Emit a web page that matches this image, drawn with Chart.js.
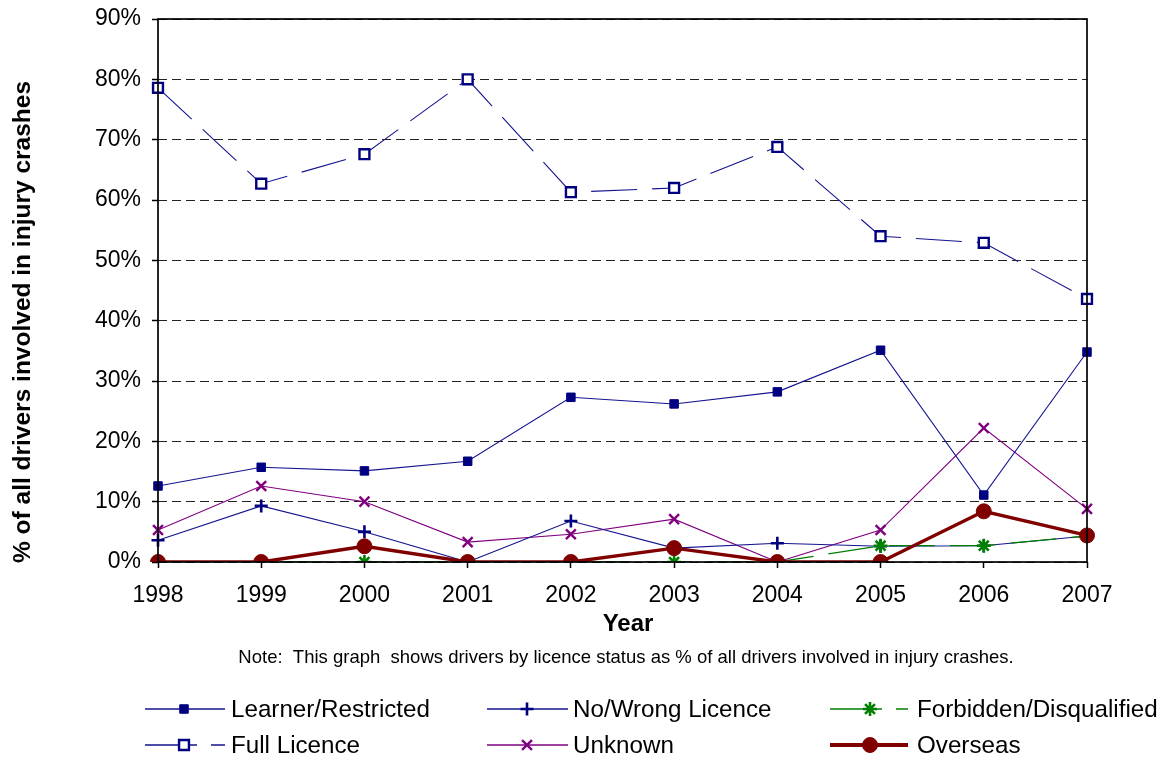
<!DOCTYPE html>
<html><head><meta charset="utf-8">
<script src="https://cdn.jsdelivr.net/npm/chart.js@4/dist/chart.umd.min.js"></script>
<style>html,body{margin:0;padding:0;background:#fff;overflow:hidden;} canvas{display:block;}</style>
</head><body>
<canvas id="c" width="1162" height="760"></canvas>
<script>
// ---- data ----
const years = ['1998','1999','2000','2001','2002','2003','2004','2005','2006','2007'];
const learnerRestricted = [12.6, 15.7, 15.1, 16.7, 27.3, 26.2, 28.2, 35.1, 11.1, 34.8];
const noWrongLicence    = [3.6, 9.3, 5.0, 0, 6.8, 2.3, 3.1, 2.6, 2.7, 4.3];
const forbiddenDisq     = [0, 0, 0, 0, 0, 0, 0, 2.7, 2.7, 4.3];
const fullLicence       = [78.6, 62.7, 67.6, 80.0, 61.3, 62.0, 68.8, 54.0, 52.9, 43.6];
const unknownStatus     = [5.3, 12.6, 10.0, 3.3, 4.6, 7.1, 0, 5.3, 22.2, 8.8];
const overseas          = [0, 0, 2.6, 0, 0, 2.3, 0, 0, 8.4, 4.4];
const yMin = 0, yMax = 90, yStep = 10;
const yTitle = '% of all drivers involved in injury crashes';
const xTitle = 'Year';
const noteText = 'Note:  This graph  shows drivers by licence status as % of all drivers involved in injury crashes.';

const FONT = '"Liberation Sans", Arial, sans-serif';

const datasets = [
  {label:'Learner/Restricted', data:learnerRestricted, borderColor:'#14148f', borderWidth:1.1,
   pointStyle:'rect', pointRadius:6, pointBackgroundColor:'#000080', pointBorderColor:'#000080', pointBorderWidth:1, order:1},
  {label:'No/Wrong Licence', data:noWrongLicence, borderColor:'#14148f', borderWidth:1.1,
   pointStyle:'cross', pointRadius:6.5, pointBackgroundColor:'#000080', pointBorderColor:'#000080', pointBorderWidth:2.6, order:3},
  {label:'Forbidden/Disqualified', data:forbiddenDisq, borderColor:'#008000', borderWidth:1.3, borderDash:[46,15],
   pointStyle:'star', pointRadius:7, pointBackgroundColor:'#008000', pointBorderColor:'#008000', pointBorderWidth:2.6, order:2},
  {label:'Full Licence', data:fullLicence, borderColor:'#14148f', borderWidth:1.1, borderDash:[46,15],
   pointStyle:'rect', pointRadius:7, pointBackgroundColor:'#ffffff', pointBorderColor:'#000080', pointBorderWidth:2.4, order:4},
  {label:'Unknown', data:unknownStatus, borderColor:'#800080', borderWidth:1.1,
   pointStyle:'crossRot', pointRadius:7, pointBackgroundColor:'#800080', pointBorderColor:'#800080', pointBorderWidth:2.4, order:5},
  {label:'Overseas', data:overseas, borderColor:'#800000', borderWidth:3.4,
   pointStyle:'circle', pointRadius:7.5, pointBackgroundColor:'#800000', pointBorderColor:'#800000', pointBorderWidth:1, order:0}
];
datasets.forEach(d => { d.fill = false; d.tension = 0; d.pointHoverRadius = d.pointRadius; });

const legendLayout = {
  rows: [709, 745],
  cols: [ {ls:145, le:225, mk:184, tx:231}, {ls:487, le:568, mk:527, tx:573}, {ls:830, le:908, mk:870, tx:917} ]
};

const extras = {
  id:'extras',
  afterDraw(chart){
    const ctx = chart.ctx, a = chart.chartArea;
    ctx.save();
    ctx.setLineDash([]);
    ctx.strokeStyle = '#000';
    ctx.lineWidth = 1.7;
    ctx.strokeRect(a.left, a.top, a.right - a.left, a.bottom - a.top);
    ctx.fillStyle = '#000';
    ctx.font = 'bold 24.5px ' + FONT;
    ctx.textAlign = 'center';
    ctx.textBaseline = 'middle';
    ctx.save();
    ctx.translate(23, 322);
    ctx.rotate(-Math.PI/2);
    ctx.fillText(yTitle, 0, 0);
    ctx.restore();
    ctx.font = 'bold 24px ' + FONT;
    ctx.fillText(xTitle, 628, 624);
    ctx.font = '18.5px ' + FONT;
    ctx.fillText(noteText, 626, 658);
    ctx.font = '24.2px ' + FONT;
    ctx.textAlign = 'left';
    chart.data.datasets.forEach((ds, i) => {
      const r = legendLayout.rows[Math.floor(i/3)], c = legendLayout.cols[i%3];
      ctx.setLineDash(ds.borderDash ? [52, 14] : []);
      ctx.strokeStyle = ds.borderColor;
      ctx.lineWidth = ds.borderWidth + 0.4;
      ctx.beginPath(); ctx.moveTo(c.ls, r); ctx.lineTo(c.le, r); ctx.stroke();
      ctx.setLineDash([]);
      ctx.fillStyle = ds.pointBackgroundColor;
      ctx.strokeStyle = ds.pointBorderColor;
      ctx.lineWidth = ds.pointBorderWidth;
      Chart.helpers.drawPoint(ctx, {pointStyle: ds.pointStyle, radius: ds.pointRadius, borderWidth: ds.pointBorderWidth, rotation: 0}, c.mk, r);
      ctx.fillStyle = '#000';
      ctx.fillText(ds.label, c.tx, r + 1);
    });
    ctx.restore();
  }
};

new Chart(document.getElementById('c'), {
  type:'line',
  data:{ labels: years, datasets: datasets },
  options:{
    responsive:false, animation:false, devicePixelRatio:1,
    layout:{ padding:{ top:19, right:75, left:0, bottom:0 } },
    plugins:{ legend:{display:false}, tooltip:{enabled:false}, title:{display:false} },
    scales:{
      x:{
        type:'category', offset:false,
        grid:{ drawOnChartArea:false, drawTicks:true, tickLength:6, tickColor:'#000', tickWidth:1.5 },
        border:{ display:false },
        ticks:{ color:'#000', font:{ family:FONT, size:23 }, padding:14, maxRotation:0, autoSkip:false },
        afterFit(s){ s.height = 198; s.paddingLeft = 0; s.paddingRight = 0; }
      },
      y:{
        min:yMin, max:yMax,
        grid:{ color:'#222', lineWidth:1, drawTicks:true, tickLength:6, tickColor:'#000', tickWidth:1.5, tickBorderDash:[] },
        border:{ display:false, dash:[9,5] },
        ticks:{ stepSize:yStep, color:'#000', font:{ family:FONT, size:23 }, padding:11, callback:v => v + '%' },
        afterFit(s){ s.width = 158; s.paddingTop = 0; s.paddingBottom = 0; }
      }
    }
  },
  plugins:[extras]
});
</script>
</body></html>
